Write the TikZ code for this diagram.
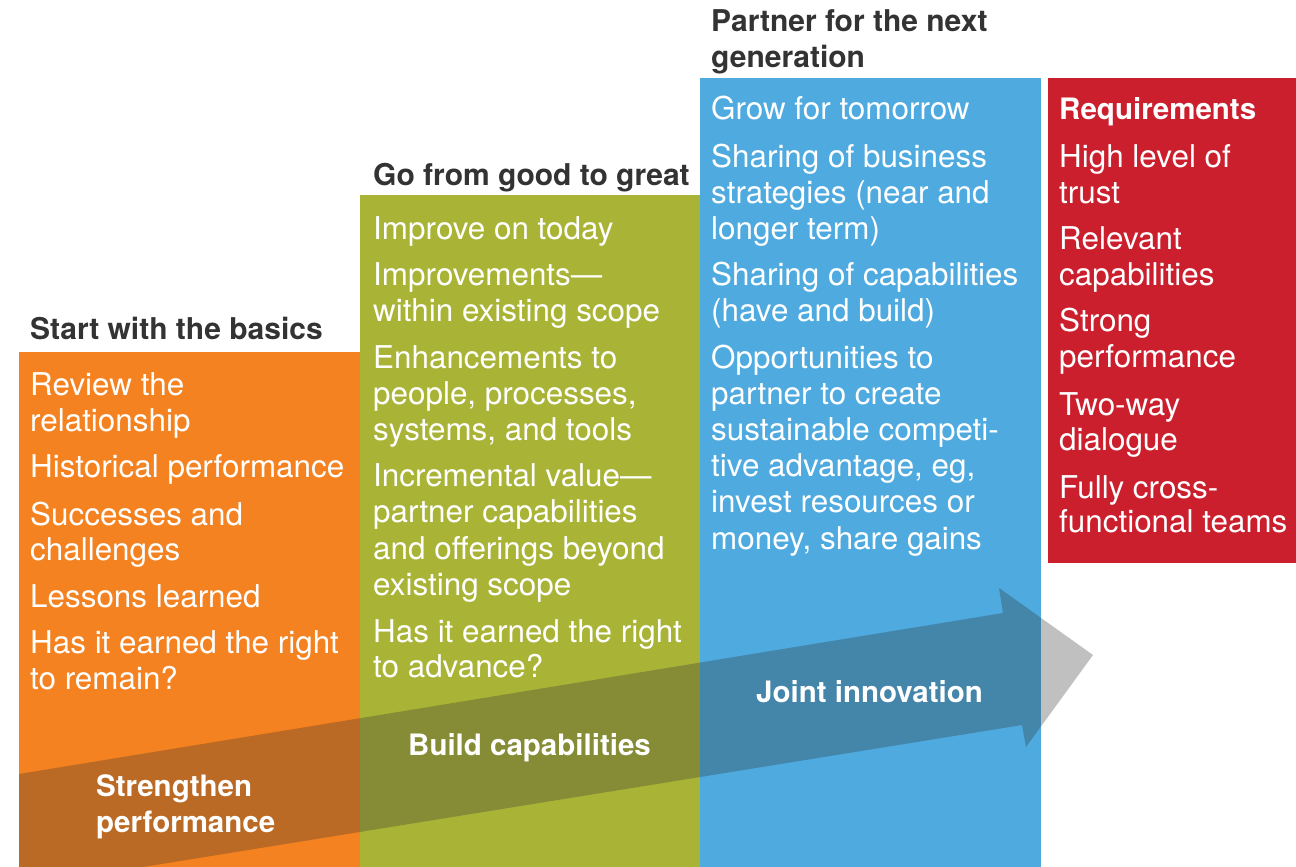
\documentclass[tikz,border=0pt]{standalone}
\usepackage{fontspec}
\setmainfont{TeX Gyre Heros}
\definecolor{corange}{RGB}{245,130,32}
\definecolor{cgreen}{RGB}{169,180,55}
\definecolor{cblue}{RGB}{78,170,223}
\definecolor{cred}{RGB}{203,31,46}
\definecolor{headgray}{RGB}{51,51,51}
\definecolor{sorange}{RGB}{186,106,36}
\definecolor{sgreen}{RGB}{134,140,54}
\definecolor{sblue}{RGB}{68,133,170}
\definecolor{swhite}{RGB}{192,192,192}
\tikzset{
  body/.style={anchor=base west, inner sep=0pt, text=white, font=\fontsize{31.4}{36}\selectfont},
  head/.style={anchor=base west, inner sep=0pt, text=headgray, font=\fontsize{30}{35}\selectfont\bfseries},
  lbl/.style={anchor=base west, inner sep=0pt, text=white, font=\fontsize{29.5}{35}\selectfont\bfseries},
}
\newcommand\bigarrowpath{(19,774) -- (1003,613) -- (999,588) -- (1093,655)
  -- (1026,747) -- (1022,725) -- (143,867) -- (19,867) -- cycle}
\begin{document}
\begin{tikzpicture}[x=1pt,y=-1pt]
\useasboundingbox (0,0) rectangle (1296,867);
\fill[white] (0,0) rectangle (1296,867);
% columns
\fill[corange] (19,352) rectangle (360,867);
\fill[cgreen] (360,195) rectangle (700,867);
\fill[cblue] (700,78) rectangle (1041,867);
\fill[cred] (1048,78) rectangle (1296,563);
% big arrow, shaded over each column
\begin{scope}
  \clip (0,352) rectangle (360,867);
  \fill[sorange] \bigarrowpath;
\end{scope}
\begin{scope}
  \clip (360,195) rectangle (700,867);
  \fill[sgreen] \bigarrowpath;
\end{scope}
\begin{scope}
  \clip (700,78) rectangle (1041,867);
  \fill[sblue] \bigarrowpath;
\end{scope}
\begin{scope}
  \clip (1041,563) rectangle (1296,867);
  \fill[swhite] \bigarrowpath;
\end{scope}
% headings
\node[head] (h1) at (30,339) {Start with the basics};
\node[head] (h2) at (373,185) {Go from good to great};
\node[head] (h3a) at (711,32) {Partner for the next};
\node[head] (h3b) at (711,67) {generation};
% orange column
\node[body] (o1) at (30,395) {Review the};
\node[body] (o2) at (30,431) {relationship};
\node[body] (o3) at (30,477) {Historical performance};
\node[body] (o4) at (30,525) {Successes and};
\node[body] (o5) at (30,560) {challenges};
\node[body] (o6) at (30,607) {Lessons learned};
\node[body] (o7) at (30,653) {Has it earned the right};
\node[body] (o8) at (30,689) {to remain?};
% green column
\node[body] (g1) at (373,239) {Improve on today};
\node[body] (g2) at (373,285) {Improvements—};
\node[body] (g3) at (373,321) {within existing scope};
\node[body] (g4) at (373,368) {Enhancements to};
\node[body] (g5) at (373,404) {people, processes,};
\node[body] (g6) at (373,440) {systems, and tools};
\node[body] (g7) at (373,486) {Incremental value—};
\node[body] (g8) at (373,522) {partner capabilities};
\node[body] (g9) at (373,559) {and offerings beyond};
\node[body] (g10) at (373,595) {existing scope};
\node[body] (g11) at (373,642) {Has it earned the right};
\node[body] (g12) at (373,677) {to advance?};
% blue column
\node[body] (b1) at (711,119) {Grow for tomorrow};
\node[body] (b2) at (711,167) {Sharing of business};
\node[body] (b3) at (711,203) {strategies (near and};
\node[body] (b4) at (711,239) {longer term)};
\node[body] (b5) at (711,285) {Sharing of capabilities};
\node[body] (b6) at (711,321) {(have and build)};
\node[body] (b7) at (711,368) {Opportunities to};
\node[body] (b8) at (711,404) {partner to create};
\node[body] (b9) at (711,440) {sustainable competi-};
\node[body] (b10) at (711,476) {tive advantage, eg,};
\node[body] (b11) at (711,512) {invest resources or};
\node[body] (b12) at (711,549) {money, share gains};
% red column
\node[lbl] (r0) at (1059,119) {Requirements};
\node[body] (r1) at (1059,167) {High level of};
\node[body] (r2) at (1059,203) {trust};
\node[body] (r3) at (1059,249) {Relevant};
\node[body] (r4) at (1059,285) {capabilities};
\node[body] (r5) at (1059,331) {Strong};
\node[body] (r6) at (1059,367) {performance};
\node[body] (r7) at (1059,415) {Two-way};
\node[body] (r8) at (1059,450) {dialogue};
\node[body] (r9) at (1059,498) {Fully cross-};
\node[body] (r10) at (1059,532) {functional teams};
% arrow labels
\node[lbl] (a1) at (96,796) {Strengthen};
\node[lbl] (a2) at (96,832) {performance};
\node[lbl] (a3) at (408,755) {Build capabilities};
\node[lbl] (a4) at (756,702) {Joint innovation};
\end{tikzpicture}
\end{document}
